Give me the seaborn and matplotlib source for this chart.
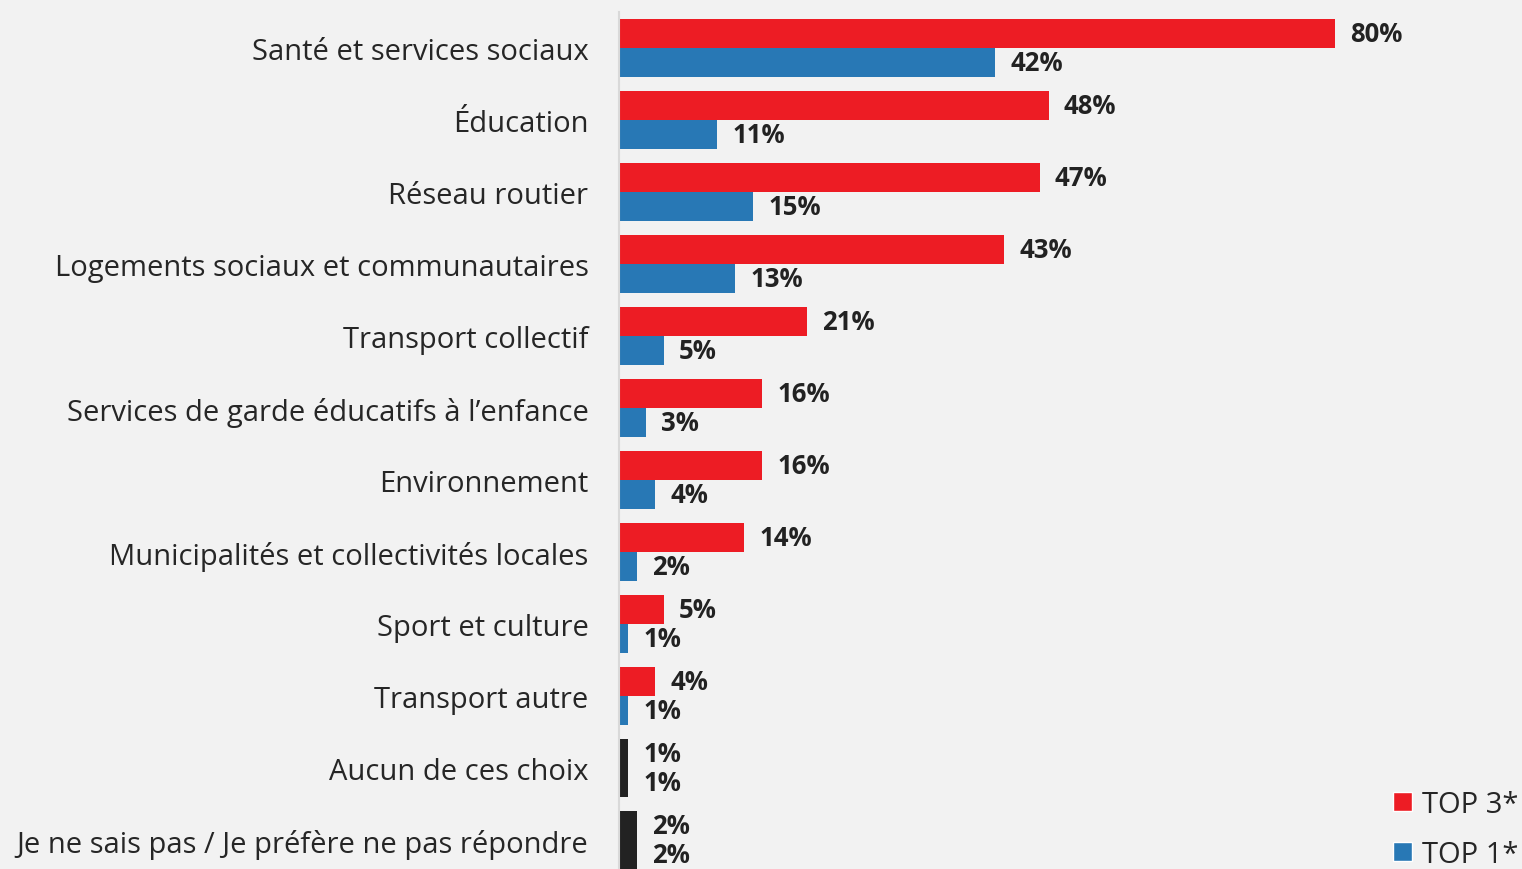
import pandas as pd
import seaborn as sns
import matplotlib.pyplot as plt
from matplotlib.patches import Patch
from matplotlib.ticker import FixedLocator

categories = [
    "Santé et services sociaux",
    "Éducation",
    "Réseau routier",
    "Logements sociaux et communautaires",
    "Transport collectif",
    "Services de garde éducatifs à l’enfance",
    "Environnement",
    "Municipalités et collectivités locales",
    "Sport et culture",
    "Transport autre",
    "Aucun de ces choix",
    "Je ne sais pas / Je préfère ne pas répondre",
]
top3 = [80, 48, 47, 43, 21, 16, 16, 14, 5, 4, 1, 2]
top1 = [42, 11, 15, 13, 5, 3, 4, 2, 1, 1, 1, 2]
series = ["TOP 3*", "TOP 1*"]

red = "#ED1C24"
blue = "#2878B5"
black = "#222222"
bg = "#F2F2F2"

df = pd.DataFrame({
    "cat": categories * 2,
    "val": top3 + top1,
    "serie": [series[0]] * len(categories) + [series[1]] * len(categories),
})

sns.set_style("white")
plt.rcParams["font.family"] = ["Open Sans", "DejaVu Sans"]

fig = plt.figure(figsize=(15.22, 8.7), dpi=100, facecolor=bg)
ax = fig.add_axes([619 / 1522, 0, 903 / 1522, 1 - 13 / 870])
ax.set_facecolor(bg)

sns.barplot(data=df, x="val", y="cat", hue="serie", orient="h",
            palette=[red, blue], saturation=1, width=0.8, linewidth=0,
            ax=ax, legend=False)

# last two rows drawn in black
for cont in ax.containers:
    for bar in cont.patches[-2:]:
        bar.set_facecolor(black)
    ax.bar_label(cont, fmt="%d%%", padding=11, fontsize=18.5, fontweight="bold",
                 color="#222222")

ax.set_xlim(0, 100.9)
ax.set_ylim(11.4, -0.5)
ax.set_xlabel("")
ax.set_ylabel("")
ax.set_xticks([])

ax.tick_params(axis="y", which="major", length=0, pad=22, labelsize=21,
               labelcolor="#262626")
ax.yaxis.set_minor_locator(FixedLocator([i - 0.5 for i in range(len(categories) + 1)]))
ax.tick_params(axis="y", which="minor", length=8, width=1.2, color="#D9D9D9")

for s in ["top", "right", "bottom"]:
    ax.spines[s].set_visible(False)
ax.spines["left"].set_color("#D9D9D9")
ax.spines["left"].set_linewidth(1.5)

handles = [Patch(facecolor=red, label=series[0]), Patch(facecolor=blue, label=series[1])]
fig.legend(handles=handles, loc="lower right", bbox_to_anchor=(1.015, -0.03),
           frameon=False, fontsize=21, handlelength=0.65, handleheight=0.65,
           handletextpad=0.35, labelspacing=0.72, labelcolor="#262626")

fig.savefig("out.png", dpi=100, facecolor=bg)
